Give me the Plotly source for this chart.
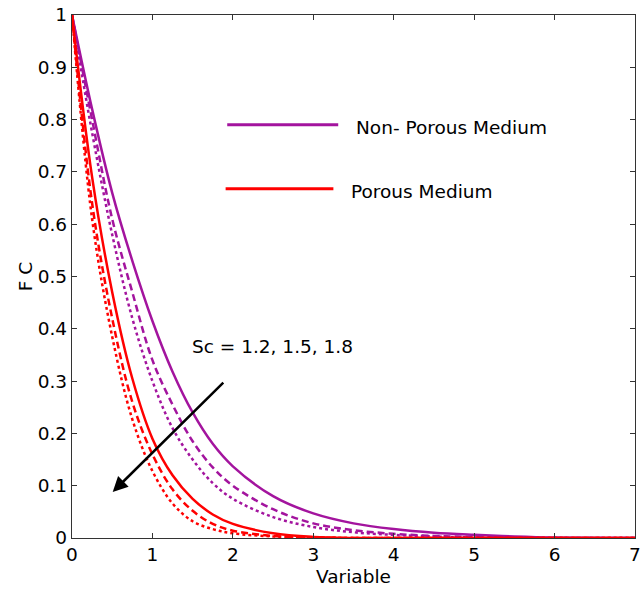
import plotly.graph_objects as go

# ---- data ----
x_vals = [0, 0.25, 0.5, 0.75, 1.0, 1.25, 1.5, 1.75, 2.0, 2.5, 3.0, 3.5, 4.0, 4.5, 5.0, 5.5, 6.0, 7.0]

np_sc12 = [1.0, 0.82, 0.66, 0.53, 0.415, 0.318, 0.24, 0.18, 0.137, 0.08, 0.047, 0.028, 0.017, 0.010, 0.006, 0.003, 0.001, 0.0]
np_sc15 = [1.0, 0.80, 0.61, 0.47, 0.34, 0.255, 0.185, 0.135, 0.10, 0.055, 0.028, 0.015, 0.008, 0.004, 0.002, 0.001, 0.0, 0.0]
np_sc18 = [1.0, 0.775, 0.58, 0.42, 0.30, 0.21, 0.15, 0.105, 0.075, 0.04, 0.021, 0.011, 0.006, 0.003, 0.001, 0.0, 0.0, 0.0]

p_sc12 = [1.0, 0.69, 0.47, 0.305, 0.19, 0.12, 0.075, 0.045, 0.027, 0.009, 0.002, 0.0, 0.0, 0.0, 0.0, 0.0, 0.0, 0.0]
p_sc15 = [1.0, 0.64, 0.42, 0.26, 0.16, 0.093, 0.052, 0.027, 0.014, 0.004, 0.001, 0.0, 0.0, 0.0, 0.0, 0.0, 0.0, 0.0]
p_sc18 = [1.0, 0.61, 0.385, 0.227, 0.128, 0.066, 0.032, 0.017, 0.009, 0.003, 0.001, 0.0, 0.0, 0.0, 0.0, 0.0, 0.0, 0.0]

x_ticks = [0, 1, 2, 3, 4, 5, 6, 7]
y_ticks = [0, 0.1, 0.2, 0.3, 0.4, 0.5, 0.6, 0.7, 0.8, 0.9, 1]
y_tick_text = ["0", "0.1", "0.2", "0.3", "0.4", "0.5", "0.6", "0.7", "0.8", "0.9", "1"]

legend_labels = ["Non- Porous Medium", "Porous Medium"]
arrow_label = "Sc = 1.2, 1.5, 1.8"

PURPLE = "#A3149E"
RED = "#FF0000"
FONT = "DejaVu Sans, Arial, sans-serif"
FS = 18.5

fig = go.Figure()

series = [
    (np_sc12, PURPLE, "solid"),
    (np_sc15, PURPLE, "7px,4px"),
    (np_sc18, PURPLE, "3px,3px"),
    (p_sc12, RED, "solid"),
    (p_sc15, RED, "7px,4px"),
    (p_sc18, RED, "3px,3px"),
]
for ys, col, dash in series:
    fig.add_trace(go.Scatter(
        x=x_vals, y=ys, mode="lines",
        line=dict(color=col, width=2.5, dash=dash, shape="spline", smoothing=1.0),
        showlegend=False, hoverinfo="skip",
    ))

# legend drawn inside plot
fig.add_shape(type="line", xref="x", yref="y", x0=1.93, x1=3.31, y0=0.79, y1=0.79,
              line=dict(color=PURPLE, width=3))
fig.add_shape(type="line", xref="x", yref="y", x0=1.91, x1=3.25, y0=0.668, y1=0.668,
              line=dict(color=RED, width=3))
fig.add_annotation(x=3.50, y=0.785, xref="x", yref="y", text=legend_labels[0],
                   showarrow=False, xanchor="left", yanchor="middle",
                   font=dict(family=FONT, size=FS, color="black"))
fig.add_annotation(x=3.45, y=0.662, xref="x", yref="y", text=legend_labels[1],
                   showarrow=False, xanchor="left", yanchor="middle",
                   font=dict(family=FONT, size=FS, color="black"))

# arrow
fig.add_annotation(x=0.506, y=0.088, ax=1.90, ay=0.30, xref="x", yref="y",
                   axref="x", ayref="y", text="", showarrow=True,
                   arrowhead=2, arrowsize=1.2, arrowwidth=2.5, arrowcolor="black")
fig.add_annotation(x=1.47, y=0.366, xref="x", yref="y", text=arrow_label,
                   showarrow=False, xanchor="left", yanchor="middle",
                   font=dict(family=FONT, size=FS, color="black"))

axis_common = dict(
    showgrid=False, zeroline=False, showline=True, mirror="ticks",
    linecolor="#333333", linewidth=1.3, ticks="inside", ticklen=5,
    tickcolor="#333333", tickwidth=1.3, ticklabeloverflow="allow",
    tickfont=dict(family=FONT, size=FS, color="black"),
)

fig.update_xaxes(range=[0, 7], tickvals=x_ticks,
                 title=dict(text="Variable", font=dict(family=FONT, size=FS, color="black"), standoff=5),
                 **axis_common)
fig.update_yaxes(range=[0, 1], tickvals=y_ticks, ticktext=y_tick_text,
                 title=dict(text="F C", font=dict(family=FONT, size=FS, color="black"), standoff=0),
                 **axis_common)

fig.update_layout(
    width=644, height=590,
    margin=dict(l=72, r=3, t=15, b=52),
    plot_bgcolor="white", paper_bgcolor="white",
    font=dict(family=FONT, size=FS, color="black"),
)

fig.write_html("out.html")
